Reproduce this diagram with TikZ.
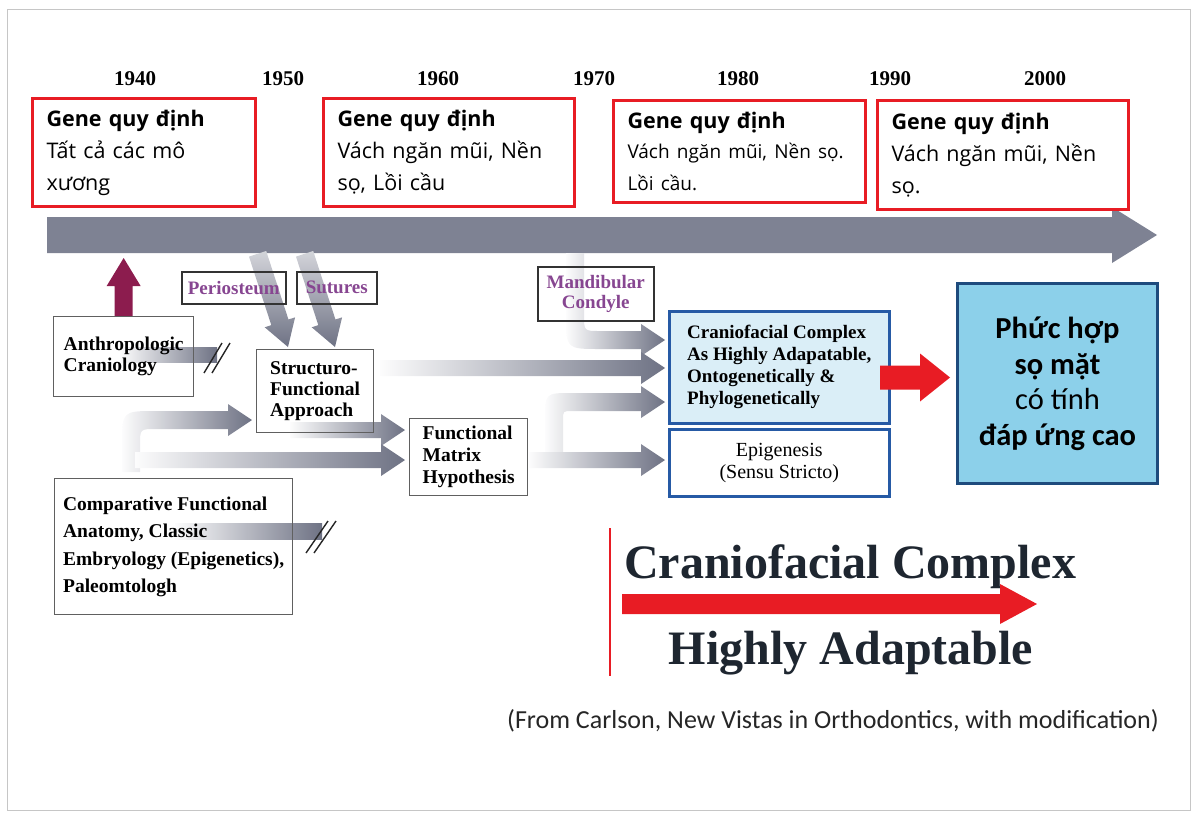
\documentclass[tikz,border=0pt]{standalone}
\usepackage{fontspec}
\setmainfont{Liberation Serif}
\newfontfamily\viet{Open Sans}
\newfontfamily\cali{Carlito}
\usetikzlibrary{calc,backgrounds}
\definecolor{agray}{RGB}{110,114,132}
\definecolor{biggray}{RGB}{126,130,147}
\definecolor{redc}{RGB}{232,28,36}
\definecolor{maroonc}{RGB}{140,28,78}
\definecolor{purp}{RGB}{135,70,145}
\definecolor{ccfill}{RGB}{218,238,247}
\definecolor{ccborder}{RGB}{38,90,165}
\definecolor{phfill}{RGB}{140,208,234}
\definecolor{phborder}{RGB}{30,75,125}
\definecolor{darktext}{RGB}{30,38,48}
\begin{document}
\begin{tikzpicture}[x=1pt,y=-1pt,
  redbox/.style={draw=redc, line width=3, fill=white, anchor=north west, inner xsep=14, inner ysep=0, align=left, font=\viet\fontsize{21.5}{32}\selectfont, text=black},
  graybox/.style={draw=gray!75!black, line width=1.3, anchor=north west, align=left, inner sep=0, font=\bfseries\fontsize{19.5}{21}\selectfont},
  tagbox/.style={draw=black!80, line width=1.5, anchor=north west, align=center, inner sep=0, text=purp, font=\bfseries\fontsize{19}{20}\selectfont},
  year/.style={font=\bfseries\fontsize{21}{21}\selectfont},
  fatgray/.style={left color=agray!2, right color=agray, draw=none},
  slash/.style={draw=black!85, line width=1.4},
  pics/harrow/.style={code={\path[fatgray] (-#1,-8) -- (-24,-8) -- (-24,-16) -- (0,0) -- (-24,16) -- (-24,8) -- (-#1,8) -- cycle;}}
]
\useasboundingbox (0,0) rectangle (1193,814);
\draw[gray!45, line width=1] (7,9) rectangle (1190,810);

% years
\node[year] (y40) at (135,79) {1940};
\node[year] (y50) at (283,79) {1950};
\node[year] (y60) at (438,79) {1960};
\node[year] (y70) at (594,79) {1970};
\node[year] (y80) at (738,79) {1980};
\node[year] (y90) at (890,79) {1990};
\node[year] (y00) at (1045,79) {2000};

% red boxes
\node[redbox, minimum width=223, minimum height=108, text width=195] (g1) at (31,97)
  {\textbf{Gene quy định}\\Tất cả các mô\\xương};
\node[redbox, minimum width=251, minimum height=108, text width=223] (g2) at (322,97)
  {\textbf{Gene quy định}\\Vách ngăn mũi, Nền\\sọ, Lồi cầu};
\node[redbox, minimum width=252, minimum height=102, text width=224] (g3) at (612,99)
  {\textbf{Gene quy định}\\\fontsize{19}{30}\selectfont Vách ngăn mũi, Nền sọ.\\Lồi cầu.};
\node[redbox, minimum width=251, minimum height=109, text width=223] (g4) at (876,99)
  {\textbf{Gene quy định}\\Vách ngăn mũi, Nền\\sọ.};

% boxes
\node[graybox, minimum width=140, minimum height=80] (anth) at (53,316) {Anthropologic\\Craniology};
\node[graybox, minimum width=117, minimum height=83] (sf) at (256,349) {Structuro-\\Functional\\Approach};
\node[graybox, minimum width=118, minimum height=77, font=\bfseries\fontsize{19.5}{22}\selectfont] (fm) at (409,418) {Functional\\Matrix\\Hypothesis};
\node[graybox, minimum width=238, minimum height=136, font=\bfseries\fontsize{19.5}{27.5}\selectfont] (comp) at (54,478)
  {Comparative Functional\\Anatomy, Classic\\Embryology (Epigenetics),\\Paleomtologh};
\node[tagbox, minimum width=104, minimum height=32] (peri) at (181,271) {Periosteum};
\node[tagbox, minimum width=80, minimum height=32] (sut) at (296,271) {Sutures};
\node[tagbox, minimum width=116, minimum height=54] (mand) at (537,266) {Mandibular\\Condyle};
\node[graybox, draw=ccborder, line width=2.5, fill=ccfill, minimum width=220, minimum height=112, font=\bfseries\fontsize{19}{22}\selectfont] (cc) at (668,310)
  {Craniofacial Complex\\As Highly Adapatable,\\Ontogenetically \&\\Phylogenetically};
\node[graybox, draw=ccborder, line width=2.5, fill=white, align=center, minimum width=220, minimum height=67, font=\fontsize{20}{22}\selectfont] (epi) at (668,428)
  {Epigenesis\\(Sensu Stricto)};
\node[draw=phborder, line width=3, fill=phfill, anchor=north west, minimum width=200, minimum height=200, align=center, inner sep=0, font=\cali\fontsize{30.5}{35.5}\selectfont] (ph) at (956,282)
  {\textbf{Phức hợp}\\\textbf{sọ mặt}\\có tính\\\textbf{đáp ứng cao}};

% bottom texts
\node[anchor=base, font=\bfseries\fontsize{48}{48}\selectfont, text=darktext] (cx1) at (850,578) {Craniofacial Complex};
\node[anchor=base, font=\bfseries\fontsize{48}{48}\selectfont, text=darktext] (cx2) at (851,664) {Highly Adaptable};
\node[anchor=base, font=\cali\fontsize{26}{26}\selectfont, text=black!85] (note) at (833,728)
  {(From Carlson, New Vistas in Orthodontics, with modification)};

% tip coordinates
\coordinate (tcc1) at ($(cc.north west)+(-3,30)$);
\coordinate (tcc2) at ($(cc.north west)+(-3,58)$);
\coordinate (tcc3) at ($(cc.north west)+(-3,92)$);
\coordinate (tepi) at ($(epi.north west)+(-3,32)$);
\coordinate (tfm1) at ($(fm.north west)+(-4,12)$);
\coordinate (tfm2) at ($(fm.north west)+(-4,42)$);
\coordinate (tsf) at ($(sf.north west)+(-4,71)$);
\coordinate (d1) at ($(sf.north west)+(32,-2)$);
\coordinate (d2) at ($(sf.north west)+(79,-2)$);
\coordinate (rtip) at ($(ph.west)+(-6,-6)$);

\begin{pgfonlayer}{background}
  % big timeline arrow
  \path[fill=biggray] (47,217) -- (1112,217) -- (1112,207) -- (1157,235) -- (1112,263) -- (1112,253) -- (47,253) -- cycle;
  % maroon arrow
  \begin{scope}[shift={(anth.north)}]
    \path[fill=maroonc] (-9,0) -- (-9,-30) -- (-17,-30) -- (0,-58) -- (17,-30) -- (9,-30) -- (9,0) -- cycle;
  \end{scope}
  % diagonal arrows
  \begin{scope}[shift={(d1)}]
    \path[top color=agray!30, bottom color=agray, draw=none] (-21.8,-96.0) -- (0.46,-27.5) -- (7.1,-29.7) -- (0,0) -- (-23.3,-19.7) -- (-16.7,-21.9) -- (-39.0,-90.4) -- cycle;
  \end{scope}
  \begin{scope}[shift={(d2)}]
    \path[top color=agray!30, bottom color=agray, draw=none] (-21.8,-96.0) -- (0.46,-27.5) -- (7.1,-29.7) -- (0,0) -- (-23.3,-19.7) -- (-16.7,-21.9) -- (-39.0,-90.4) -- cycle;
  \end{scope}
  % mandibular curved arrow
  \begin{scope}[shift={(tcc1)}]
    \path[fatgray] (-99,-87) -- (-99,-25) .. controls (-99,9) .. (-65,9) -- (-24,9) -- (-24,16) -- (0,0) -- (-24,-16) -- (-24,-9) -- (-65,-9) .. controls (-81,-9) .. (-81,-25) -- (-81,-87) -- cycle;
  \end{scope}
  % FM branch arrow
  \begin{scope}[shift={(tcc3)}]
    \path[fatgray] (-120,60) -- (-120,18) .. controls (-120,-9) .. (-93,-9) -- (-24,-9) -- (-24,-16) -- (0,0) -- (-24,16) -- (-24,9) -- (-93,9) .. controls (-102,9) .. (-102,18) -- (-102,60) -- cycle;
  \end{scope}
  % curved arrow from comparative to structuro
  \begin{scope}[shift={(tsf)}]
    \path[fatgray] (-130,52) -- (-130,25) .. controls (-130,-9) .. (-96,-9) -- (-24,-9) -- (-24,-16) -- (0,0) -- (-24,16) -- (-24,9) -- (-96,9) .. controls (-112,9) .. (-112,25) -- (-112,52) -- cycle;
  \end{scope}
  % straight arrows
  \pic at (tcc2) {harrow=285};
  \pic at (tepi) {harrow=136};
  \pic at (tfm1) {harrow=115};
  \pic at (tfm2) {harrow=270};
  % interrupted shafts
  \path[fatgray] (120,347) rectangle (217,362);
  \path[fatgray] (175,523) rectangle (322,539);
\end{pgfonlayer}

% break marks
\draw[slash] (204,373) -- (222,343) (212,373) -- (230,343);
\draw[slash] (306,553) -- (328,521) (314,553) -- (336,521);

% red arrow to conclusion
\begin{scope}[shift={(rtip)}]
  \path[fill=redc] (-70,-12) -- (-30,-12) -- (-30,-24) -- (0,0) -- (-30,24) -- (-30,12) -- (-70,12) -- cycle;
\end{scope}

% bottom red marker line and arrow
\draw[redc, line width=2] (610,528) -- (610,676);
\path[fill=redc] (622,594) -- (1000,594) -- (1000,584) -- (1037,604) -- (1000,624) -- (1000,614) -- (622,614) -- cycle;
\end{tikzpicture}
\end{document}
